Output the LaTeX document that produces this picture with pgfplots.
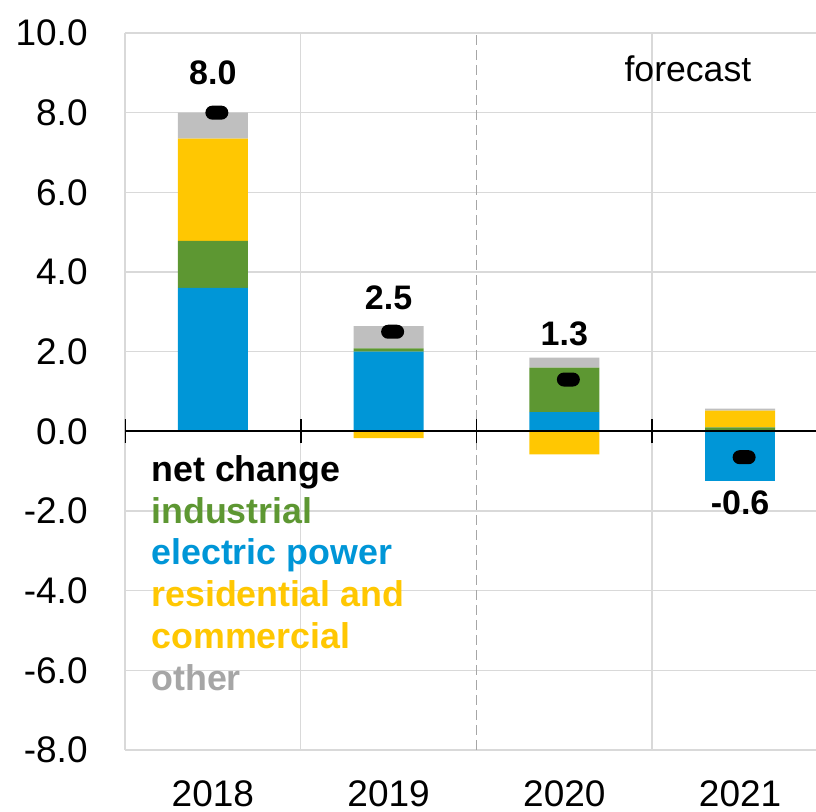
\documentclass[border=0pt]{standalone}
\usepackage{fontspec}
\setmainfont{Liberation Sans}
\usepackage{pgfplots}
\pgfplotsset{compat=1.18}
\definecolor{cblue}{HTML}{0096D7}
\definecolor{cgreen}{HTML}{5D9732}
\definecolor{cyellow}{HTML}{FFC702}
\definecolor{cgray}{HTML}{BFBFBF}
\definecolor{lgray}{HTML}{A6A6A6}
\definecolor{gridc}{HTML}{D9D9D9}
\pgfdeclareplotmark{pill}{%
  \pgfpathmoveto{\pgfpoint{-2.25pt}{3.5pt}}%
  \pgfpathlineto{\pgfpoint{2.25pt}{3.5pt}}%
  \pgfpatharc{90}{-90}{3.5pt}%
  \pgfpathlineto{\pgfpoint{-2.25pt}{-3.5pt}}%
  \pgfpatharc{270}{90}{3.5pt}%
  \pgfpathclose
  \pgfusepathqfill}
\pgfplotsset{common/.style={
  scale only axis, width=351.5pt, height=358.5pt,
  xmin=-0.5, xmax=3.5, ymin=-8, ymax=10,
  at={(0,0)}, anchor=south west,
}}
\begin{document}
\begin{tikzpicture}
\begin{axis}[common,
  ybar stacked, bar width=35pt,
  axis line style={draw=none},
  ytick={-8,-6,...,10},
  yticklabel style={/pgf/number format/fixed, /pgf/number format/fixed zerofill, /pgf/number format/precision=1},
  /pgf/number format/assume math mode=true,
  xtick={0,1,2,3}, xticklabels={2018,2019,2020,2021},
  major tick length=0pt, minor tick length=0pt,
  minor xtick={-0.5,0.5,2.5}, xminorgrids, ymajorgrids,
  major grid style={gridc, line width=0.75pt},
  minor grid style={gridc, line width=0.75pt},
  extra x ticks={1.5}, extra x tick labels={},
  extra x tick style={grid=major, major grid style={lgray, dash pattern=on 5pt off 2.5pt, line width=0.75pt}},
  tick label style={font=\fontsize{18.5}{20}\selectfont},
  yticklabel style={anchor=east, inner sep=0pt, xshift=-18.5pt},
  xticklabel style={anchor=north, inner sep=0pt, yshift=-15pt},
]
\addplot[fill=cblue, draw=none] coordinates {(0,3.6)(1,2.0)(2,0.48)(3,0)};
\addplot[fill=cgreen, draw=none] coordinates {(0,1.18)(1,0.08)(2,1.12)(3,0.1)};
\addplot[fill=cyellow, draw=none] coordinates {(0,2.57)(1,0)(2,0)(3,0.42)};
\addplot[fill=cgray, draw=none] coordinates {(0,0.65)(1,0.56)(2,0.25)(3,0.05)};
\end{axis}
\begin{axis}[common, hide axis]
\addplot[ybar, bar width=35pt, bar shift=0pt, fill=cyellow, draw=none] coordinates {(1,-0.17)(2,-0.58)};
\addplot[ybar, bar width=35pt, bar shift=0pt, fill=cblue, draw=none] coordinates {(3,-1.25)};
\draw[black, line width=0.9pt] (axis cs:-0.5,0) -- (axis cs:3.5,0);
\draw[black, line width=0.9pt] (axis cs:-0.5,0) +(0pt,-6pt) -- +(0pt,6pt);
\draw[black, line width=0.9pt] (axis cs:0.5,0) +(0pt,-6pt) -- +(0pt,6pt);
\draw[black, line width=0.9pt] (axis cs:1.5,0) +(0pt,-6pt) -- +(0pt,6pt);
\draw[black, line width=0.9pt] (axis cs:2.5,0) +(0pt,-6pt) -- +(0pt,6pt);
\addplot[only marks, mark=pill, mark options={xshift=2pt, fill=black, draw=black}] coordinates {(0,8.0)(1,2.5)(2,1.3)(3,-0.65)};
\node[font=\bfseries\fontsize{17}{18}\selectfont] at (axis cs:0,9.0) {8.0};
\node[font=\bfseries\fontsize{17}{18}\selectfont] at (axis cs:1,3.34) {2.5};
\node[font=\bfseries\fontsize{17}{18}\selectfont] at (axis cs:2,2.46) {1.3};
\node[font=\bfseries\fontsize{17}{18}\selectfont] at (axis cs:3,-1.8) {-0.6};
\node[font=\fontsize{17.8}{19}\selectfont] at (axis cs:2.703,9.11) {forecast};
\node[anchor=north west, inner sep=0pt, align=left, font=\bfseries\fontsize{17.9}{20.85}\selectfont] at (axis cs:-0.352,-0.6)
  {\textcolor{black}{net change}\\ \textcolor{cgreen}{industrial}\\ \textcolor{cblue}{electric power}\\ \textcolor{cyellow}{residential and}\\ \textcolor{cyellow}{commercial}\\ \textcolor{lgray}{other}};
\end{axis}
\pgfresetboundingbox
\path[use as bounding box] (-62.5pt,-31pt) rectangle (345.5pt,375pt);
\end{tikzpicture}
\end{document}
